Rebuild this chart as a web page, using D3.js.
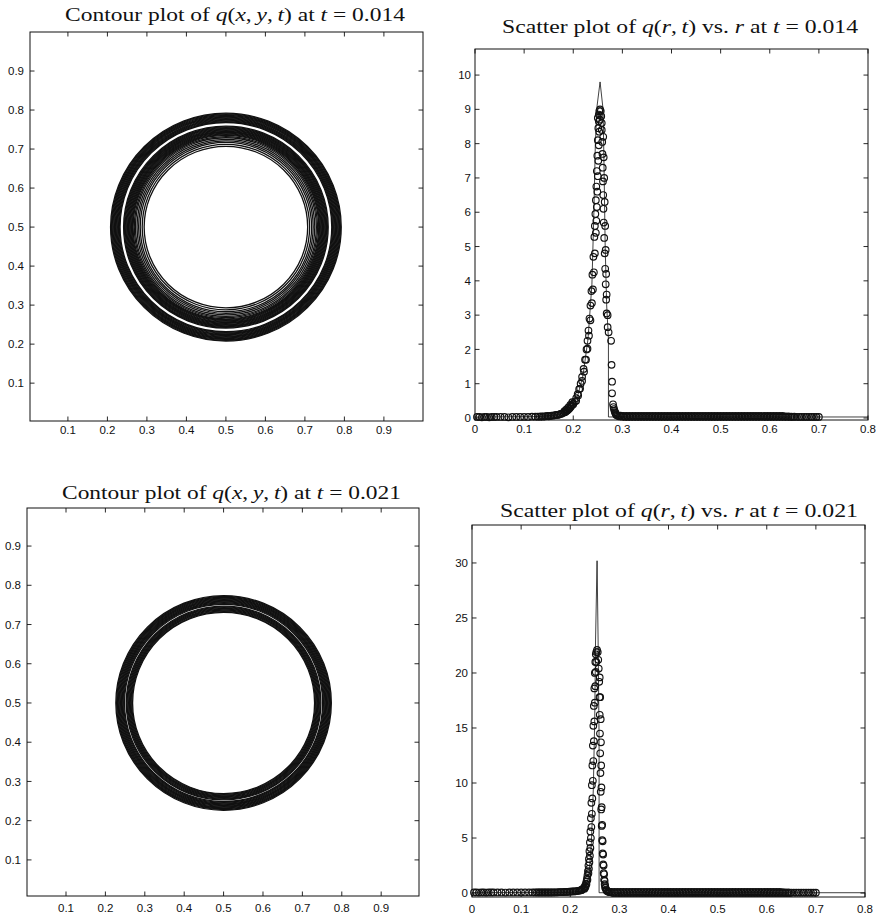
<!DOCTYPE html>
<html><head><meta charset="utf-8">
<script src="https://cdn.jsdelivr.net/npm/d3@7"></script>
<style>body{margin:0;background:#fff}svg{display:block}</style>
</head><body>
<svg id="c" width="878" height="917"></svg>
<script>
// ---------------- data ----------------
const gridTicks = [0.1,0.2,0.3,0.4,0.5,0.6,0.7,0.8,0.9];
const scatterXTicks = [0,0.1,0.2,0.3,0.4,0.5,0.6,0.7,0.8];
const topYTicks = [0,1,2,3,4,5,6,7,8,9,10];
const bottomYTicks = [0,5,10,15,20,25,30];
const contourCenter = [0.5,0.5];

// contour level radii
const contourRadiiTop = [0.207,0.212,0.217,0.221,0.225,
  0.229,0.232,0.235,0.237,0.239,0.241,0.243,0.245,0.247,0.249,0.251,0.253,0.255,0.257,0.259,
  0.268,0.270,0.272,0.274,0.276,0.278,0.280,0.282,0.284,0.286,0.288,0.290,0.292];
const contourRadiiBottom = [0.231,0.233,0.235,0.237,0.239,0.241,0.243,0.245,0.247,
  0.2515,0.2535,0.2555,0.2575,0.2595,0.2615,0.2635,0.2655,0.2675,0.2695,0.2715,0.2735];

// scatter points [r, q] at t = 0.014
const pointsTop = [
 // near the centre
 [0.004,0.03],[0.009,0.03],[0.014,0.02],[0.019,0.03],[0.024,0.03],[0.029,0.02],[0.034,0.03],[0.039,0.03],[0.044,0.03],
 [0.052,0.03],[0.060,0.03],[0.068,0.02],[0.076,0.03],[0.084,0.03],[0.092,0.03],[0.100,0.03],[0.108,0.03],[0.116,0.04],[0.123,0.04],
 // slow rise
 [0.128,0.04],[0.132,0.04],[0.135,0.05],[0.138,0.04],[0.141,0.05],[0.144,0.05],[0.147,0.06],[0.150,0.05],[0.153,0.06],[0.156,0.07],
 [0.159,0.07],[0.162,0.08],[0.165,0.09],[0.168,0.09],[0.171,0.10],[0.174,0.12],[0.177,0.13],[0.180,0.15],[0.183,0.17],[0.185,0.19],
 [0.187,0.21],[0.189,0.23],[0.191,0.26],[0.193,0.29],[0.195,0.33],[0.197,0.37],[0.199,0.41],
 [0.182,0.20],[0.186,0.25],[0.190,0.31],[0.194,0.38],[0.198,0.46],
 // rising branch
 [0.200,0.40],[0.203,0.48],[0.206,0.58],[0.209,0.70],[0.212,0.84],[0.215,1.00],[0.218,1.20],[0.221,1.43],[0.224,1.70],
 [0.227,2.00],[0.229,2.25],[0.231,2.55],[0.233,2.90],[0.235,3.28],[0.237,3.70],[0.239,4.18],[0.241,4.70],[0.243,5.28],
 [0.244,5.60],[0.245,5.95],[0.246,6.35],[0.247,6.75],[0.248,7.20],[0.249,7.65],[0.250,8.10],[0.251,8.45],[0.252,8.65],
 [0.206,0.50],[0.210,0.66],[0.214,0.86],[0.218,1.08],[0.222,1.35],[0.226,1.70],[0.229,2.02],[0.232,2.40],[0.235,2.85],
 [0.238,3.35],[0.240,3.75],[0.242,4.25],[0.244,4.80],[0.246,5.40],[0.247,5.75],[0.248,6.15],[0.249,6.60],[0.250,7.05],
 [0.251,7.50],[0.252,7.95],[0.253,8.35],[0.254,8.70],
 // peak
 [0.250,8.75],[0.252,8.85],[0.253,8.95],[0.2545,9.00],[0.256,8.95],[0.257,8.80],[0.258,8.60],
 // falling branch
 [0.258,8.40],[0.259,8.05],[0.2595,7.70],[0.260,7.30],[0.2605,6.90],[0.261,6.50],[0.2615,6.10],[0.262,5.70],[0.263,5.25],
 [0.264,4.80],[0.265,4.35],[0.266,3.90],[0.267,3.45],[0.268,3.05],[0.270,2.65],
 [0.261,8.20],[0.262,7.60],[0.263,7.00],[0.264,6.30],[0.265,5.60],[0.266,4.90],[0.267,4.20],[0.268,3.60],[0.270,3.00],
 [0.272,2.50],[0.277,2.25],[0.278,1.55],[0.279,1.06],[0.279,0.72],[0.281,0.40],[0.282,0.32],[0.283,0.26],[0.284,0.21],
 [0.285,0.17],[0.286,0.14],[0.287,0.11],[0.288,0.09],
 // flat tail
 [0.290,0.07],[0.293,0.05],[0.296,0.07],[0.299,0.04],[0.302,0.06],[0.305,0.03],[0.308,0.06],[0.311,0.03],[0.314,0.06],
 [0.317,0.03],[0.320,0.06],[0.323,0.03],[0.326,0.06],[0.329,0.03],[0.332,0.06],[0.335,0.03],[0.338,0.06],[0.341,0.03],
 [0.344,0.06],[0.347,0.03],[0.350,0.06],[0.353,0.03],[0.356,0.06],[0.359,0.03],[0.362,0.06],[0.365,0.03],[0.368,0.06],
 [0.371,0.03],[0.374,0.06],[0.377,0.03],[0.380,0.06],[0.383,0.03],[0.386,0.06],[0.389,0.03],[0.392,0.06],[0.395,0.03],
 [0.398,0.06],[0.401,0.03],[0.404,0.06],[0.407,0.03],[0.410,0.06],[0.413,0.03],[0.416,0.06],[0.419,0.03],[0.422,0.06],
 [0.425,0.03],[0.428,0.06],[0.431,0.03],[0.434,0.06],[0.437,0.03],[0.440,0.06],[0.443,0.03],[0.446,0.06],[0.449,0.03],
 [0.452,0.06],[0.455,0.03],[0.458,0.06],[0.461,0.03],[0.464,0.06],[0.467,0.03],[0.470,0.06],[0.473,0.03],[0.476,0.06],
 [0.479,0.03],[0.482,0.06],[0.485,0.03],[0.488,0.06],[0.491,0.03],[0.494,0.06],[0.497,0.03],[0.500,0.06],[0.503,0.03],
 [0.506,0.06],[0.509,0.03],[0.512,0.06],[0.515,0.03],[0.518,0.06],[0.521,0.03],[0.524,0.06],[0.527,0.03],[0.530,0.06],
 [0.533,0.03],[0.536,0.06],[0.539,0.03],[0.542,0.06],[0.545,0.03],[0.548,0.06],[0.551,0.03],[0.554,0.06],[0.557,0.03],
 [0.560,0.06],[0.563,0.03],[0.566,0.06],[0.569,0.03],[0.572,0.06],[0.575,0.03],[0.578,0.06],[0.581,0.03],[0.584,0.06],
 [0.587,0.03],[0.590,0.06],[0.593,0.03],[0.596,0.06],[0.599,0.03],[0.602,0.06],[0.605,0.03],[0.608,0.06],[0.611,0.03],
 [0.614,0.06],[0.617,0.03],[0.620,0.06],[0.623,0.03],[0.626,0.06],[0.629,0.03],[0.632,0.05],[0.635,0.03],[0.638,0.05],
 [0.641,0.03],[0.644,0.04],[0.647,0.03],[0.650,0.04],
 // outer edge
 [0.655,0.03],[0.660,0.03],[0.665,0.03],[0.670,0.03],[0.675,0.03],[0.680,0.03],[0.685,0.03],[0.690,0.03],[0.695,0.03],[0.700,0.03]
];
const exactTop = [[0,0.03],[0.13,0.04],[0.17,0.10],[0.19,0.22],[0.20,0.38],[0.21,0.70],[0.22,1.25],[0.23,2.30],
 [0.238,3.90],[0.242,6.00],[0.245,8.00],[0.2485,9.10],[0.2546,9.80],[0.2607,9.00],[0.2625,7.50],[0.265,5.00],
 [0.268,3.30],[0.2716,2.30],[0.2716,0.03],[0.80,0.03]];

// scatter points [r, q] at t = 0.021
const pointsBottom = [
 [0.004,0.05],[0.009,0.05],[0.014,0.04],[0.019,0.05],[0.024,0.05],[0.029,0.04],[0.034,0.05],[0.039,0.05],[0.044,0.05],
 [0.052,0.05],[0.060,0.05],[0.068,0.04],[0.076,0.05],[0.084,0.05],[0.092,0.05],[0.100,0.05],[0.108,0.05],[0.116,0.05],[0.123,0.05],
 [0.128,0.05],[0.132,0.05],[0.135,0.05],[0.138,0.05],[0.141,0.05],[0.144,0.05],[0.147,0.06],[0.150,0.05],[0.153,0.06],[0.156,0.06],
 [0.159,0.06],[0.162,0.06],[0.165,0.06],[0.168,0.07],[0.171,0.07],[0.174,0.07],[0.177,0.08],[0.180,0.08],[0.183,0.09],[0.186,0.09],
 [0.189,0.10],[0.192,0.10],[0.195,0.11],[0.198,0.12],[0.201,0.13],[0.204,0.14],[0.207,0.15],[0.210,0.16],[0.213,0.18],
 [0.216,0.20],[0.219,0.22],[0.221,0.25],[0.223,0.28],
 // rising branch
 [0.224,0.30],[0.226,0.38],[0.228,0.50],[0.230,0.65],[0.232,0.85],[0.233,1.05],[0.234,1.30],[0.235,1.60],[0.236,2.00],
 [0.237,2.50],[0.238,3.10],[0.239,3.80],[0.240,4.60],[0.241,5.60],[0.242,6.80],[0.243,8.20],[0.244,9.80],[0.245,11.6],
 [0.246,13.4],[0.247,15.2],[0.248,17.0],[0.249,18.6],[0.250,20.0],[0.251,21.0],[0.252,21.7],
 [0.229,0.40],[0.231,0.55],[0.233,0.80],[0.235,1.20],[0.237,1.80],[0.238,2.20],[0.239,2.80],[0.240,3.40],[0.241,4.10],
 [0.242,5.00],[0.243,6.00],[0.244,7.20],[0.245,8.60],[0.246,10.2],[0.247,12.0],[0.248,13.8],[0.249,15.6],[0.250,17.3],
 [0.251,18.8],[0.252,20.1],[0.253,21.0],
 // peak
 [0.253,21.9],[0.2545,22.1],[0.256,21.9],
 // falling branch
 [0.257,21.2],[0.258,20.4],[0.259,19.2],[0.2595,17.8],[0.260,16.2],[0.2605,14.5],[0.261,12.7],[0.2615,10.9],[0.262,9.2],
 [0.263,7.6],[0.264,6.1],[0.265,4.8],[0.266,3.6],[0.267,2.6],[0.268,1.8],[0.269,1.2],[0.270,0.8],[0.271,0.5],
 [0.260,19.6],[0.261,17.8],[0.262,15.8],[0.2625,13.7],[0.263,11.6],[0.2635,9.6],[0.264,7.8],[0.265,6.2],[0.266,4.7],
 [0.267,3.5],[0.268,2.5],[0.269,1.7],[0.270,1.1],[0.271,0.7],[0.272,0.45],[0.273,0.32],[0.274,0.24],[0.275,0.18],
 [0.277,0.13],[0.279,0.10],[0.281,0.08],
 // flat tail
 [0.284,0.10],[0.287,0.0],[0.290,0.10],[0.293,0.0],[0.296,0.10],[0.299,0.0],[0.302,0.10],[0.305,0.0],[0.308,0.10],
 [0.311,0.0],[0.314,0.10],[0.317,0.0],[0.320,0.10],[0.323,0.0],[0.326,0.10],[0.329,0.0],[0.332,0.10],[0.335,0.0],
 [0.338,0.10],[0.341,0.0],[0.344,0.10],[0.347,0.0],[0.350,0.10],[0.353,0.0],[0.356,0.10],[0.359,0.0],[0.362,0.10],
 [0.365,0.0],[0.368,0.10],[0.371,0.0],[0.374,0.10],[0.377,0.0],[0.380,0.10],[0.383,0.0],[0.386,0.10],[0.389,0.0],
 [0.392,0.10],[0.395,0.0],[0.398,0.10],[0.401,0.0],[0.404,0.10],[0.407,0.0],[0.410,0.10],[0.413,0.0],[0.416,0.10],
 [0.419,0.0],[0.422,0.10],[0.425,0.0],[0.428,0.10],[0.431,0.0],[0.434,0.10],[0.437,0.0],[0.440,0.10],[0.443,0.0],
 [0.446,0.10],[0.449,0.0],[0.452,0.10],[0.455,0.0],[0.458,0.10],[0.461,0.0],[0.464,0.10],[0.467,0.0],[0.470,0.10],
 [0.473,0.0],[0.476,0.10],[0.479,0.0],[0.482,0.10],[0.485,0.0],[0.488,0.10],[0.491,0.0],[0.494,0.10],[0.497,0.0],
 [0.500,0.10],[0.503,0.0],[0.506,0.10],[0.509,0.0],[0.512,0.10],[0.515,0.0],[0.518,0.10],[0.521,0.0],[0.524,0.10],
 [0.527,0.0],[0.530,0.10],[0.533,0.0],[0.536,0.10],[0.539,0.0],[0.542,0.10],[0.545,0.0],[0.548,0.10],[0.551,0.0],
 [0.554,0.10],[0.557,0.0],[0.560,0.10],[0.563,0.0],[0.566,0.10],[0.569,0.0],[0.572,0.10],[0.575,0.0],[0.578,0.10],
 [0.581,0.0],[0.584,0.10],[0.587,0.0],[0.590,0.10],[0.593,0.0],[0.596,0.10],[0.599,0.0],[0.602,0.10],[0.605,0.0],
 [0.608,0.10],[0.611,0.0],[0.614,0.10],[0.617,0.0],[0.620,0.10],[0.623,0.0],[0.626,0.10],[0.629,0.0],[0.632,0.08],
 [0.635,0.0],[0.638,0.06],[0.641,0.0],[0.644,0.05],[0.647,0.0],[0.650,0.04],
 [0.655,0.03],[0.660,0.03],[0.665,0.03],[0.670,0.03],[0.675,0.03],[0.680,0.03],[0.685,0.03],[0.690,0.03],[0.695,0.03],[0.700,0.03]
];
const exactBottom = [[0,0.03],[0.20,0.05],[0.22,0.15],[0.232,0.60],[0.238,1.60],[0.243,4.50],[0.247,9.50],[0.2499,16.0],
 [0.2515,23.0],[0.2546,30.2],[0.2567,23.0],[0.2587,14.0],[0.2587,0.03],[0.80,0.03]];

// titles: [text, italic?]
const TS = "\u2009";
const titleContourTop = [["Contour plot of ",0],["q",1],["(",0],["x",1],[","+TS,0],["y",1],[","+TS,0],["t",1],[") at ",0],["t",1],[" = 0.014",0]];
const titleScatterTop = [["Scatter plot of ",0],["q",1],["(",0],["r",1],[","+TS,0],["t",1],[") vs. ",0],["r",1],[" at ",0],["t",1],[" = 0.014",0]];
const titleContourBottom = [["Contour plot of ",0],["q",1],["(",0],["x",1],[","+TS,0],["y",1],[","+TS,0],["t",1],[") at ",0],["t",1],[" = 0.021",0]];
const titleScatterBottom = [["Scatter plot of ",0],["q",1],["(",0],["r",1],[","+TS,0],["t",1],[") vs. ",0],["r",1],[" at ",0],["t",1],[" = 0.021",0]];

// ---------------- layout ----------------
const panels = [
 {kind:"contour", box:[30,32,423,421], xDom:[0.004,0.999], yDom:[0.003,1.0], xTicks:gridTicks, yTicks:gridTicks,
  radii:contourRadiiTop, title:titleContourTop, tx:[65,405], ty:21, ylabGap:6, xlabDy:13},
 {kind:"scatter", box:[475,49,868,420], xDom:[0,0.8], yDom:[-0.058,10.76], xTicks:scatterXTicks, yTicks:topYTicks,
  points:pointsTop, exact:exactTop, title:titleScatterTop, tx:[502,858], ty:33, ylabGap:4, xlabDy:13},
 {kind:"contour", box:[27,508,419,896], xDom:[0.001,0.996], yDom:[0.008,0.997], xTicks:gridTicks, yTicks:gridTicks,
  radii:contourRadiiBottom, title:titleContourBottom, tx:[62,401], ty:499, ylabGap:6, xlabDy:16},
 {kind:"scatter", box:[472,525,865,897], xDom:[0,0.8], yDom:[-0.36,33.45], xTicks:scatterXTicks, yTicks:bottomYTicks,
  points:pointsBottom, exact:exactBottom, title:titleScatterBottom, tx:[500,858], ty:517, ylabGap:4, xlabDy:16}
];

const svg = d3.select("#c");
const INK = "#111";
const tickFmt = v => (v === 0 ? "0" : String(v));

panels.forEach(p => {
  const [x0,y0,x1,y1] = p.box;
  const x = d3.scaleLinear().domain(p.xDom).range([x0,x1]);
  const y = d3.scaleLinear().domain(p.yDom).range([y1,y0]);
  const g = svg.append("g");

  if (p.kind === "contour") {
    g.append("g").selectAll("ellipse").data(p.radii).join("ellipse")
      .attr("cx", x(contourCenter[0])).attr("cy", y(contourCenter[1]))
      .attr("rx", d => x(contourCenter[0] + d) - x(contourCenter[0]))
      .attr("ry", d => y(contourCenter[1]) - y(contourCenter[1] + d))
      .attr("fill","none").attr("stroke",INK).attr("stroke-width",1.3);
  } else {
    const line = d3.line().x(d => x(d[0])).y(d => y(d[1]));
    g.append("path").datum(p.exact).attr("d", line)
      .attr("fill","none").attr("stroke",INK).attr("stroke-width",0.8);
    g.append("g").selectAll("circle").data(p.points).join("circle")
      .attr("cx", d => x(d[0])).attr("cy", d => y(d[1])).attr("r", 3.3)
      .attr("fill","none").attr("stroke",INK).attr("stroke-width",1.15);
  }

  // frame
  g.append("rect").attr("x",x0).attr("y",y0).attr("width",x1-x0).attr("height",y1-y0)
    .attr("fill","none").attr("stroke",INK).attr("stroke-width",1);

  // ticks (inward, mirrored)
  const TL = 4.5;
  const tg = g.append("g").attr("stroke",INK).attr("stroke-width",0.9);
  p.xTicks.forEach(v => {
    const xx = x(v);
    tg.append("line").attr("x1",xx).attr("x2",xx).attr("y1",y1).attr("y2",y1-TL);
    tg.append("line").attr("x1",xx).attr("x2",xx).attr("y1",y0).attr("y2",y0+TL);
  });
  p.yTicks.forEach(v => {
    const yy = y(v);
    tg.append("line").attr("x1",x0).attr("x2",x0+TL).attr("y1",yy).attr("y2",yy);
    tg.append("line").attr("x1",x1).attr("x2",x1-TL).attr("y1",yy).attr("y2",yy);
  });

  // tick labels
  const lab = g.append("g").attr("font-family","'Liberation Sans', Arial, sans-serif")
    .attr("font-size",11.5).attr("fill",INK);
  p.xTicks.forEach(v => {
    lab.append("text").attr("x",x(v)).attr("y",y1+p.xlabDy).attr("text-anchor","middle").text(tickFmt(v));
  });
  p.yTicks.forEach(v => {
    lab.append("text").attr("x",x0-p.ylabGap).attr("y",y(v)).attr("dy","0.36em")
      .attr("text-anchor","end").text(tickFmt(v));
  });

  // title
  const t = g.append("text").attr("x",p.tx[0]).attr("y",p.ty)
    .attr("font-family","'Liberation Serif', 'Times New Roman', serif")
    .attr("font-size",18.5).attr("fill",INK)
    .attr("textLength",p.tx[1]-p.tx[0]).attr("lengthAdjust","spacingAndGlyphs");
  p.title.forEach(([s,it]) => {
    t.append("tspan").attr("font-style", it ? "italic" : "normal").text(s);
  });
});
</script>
</body></html>
